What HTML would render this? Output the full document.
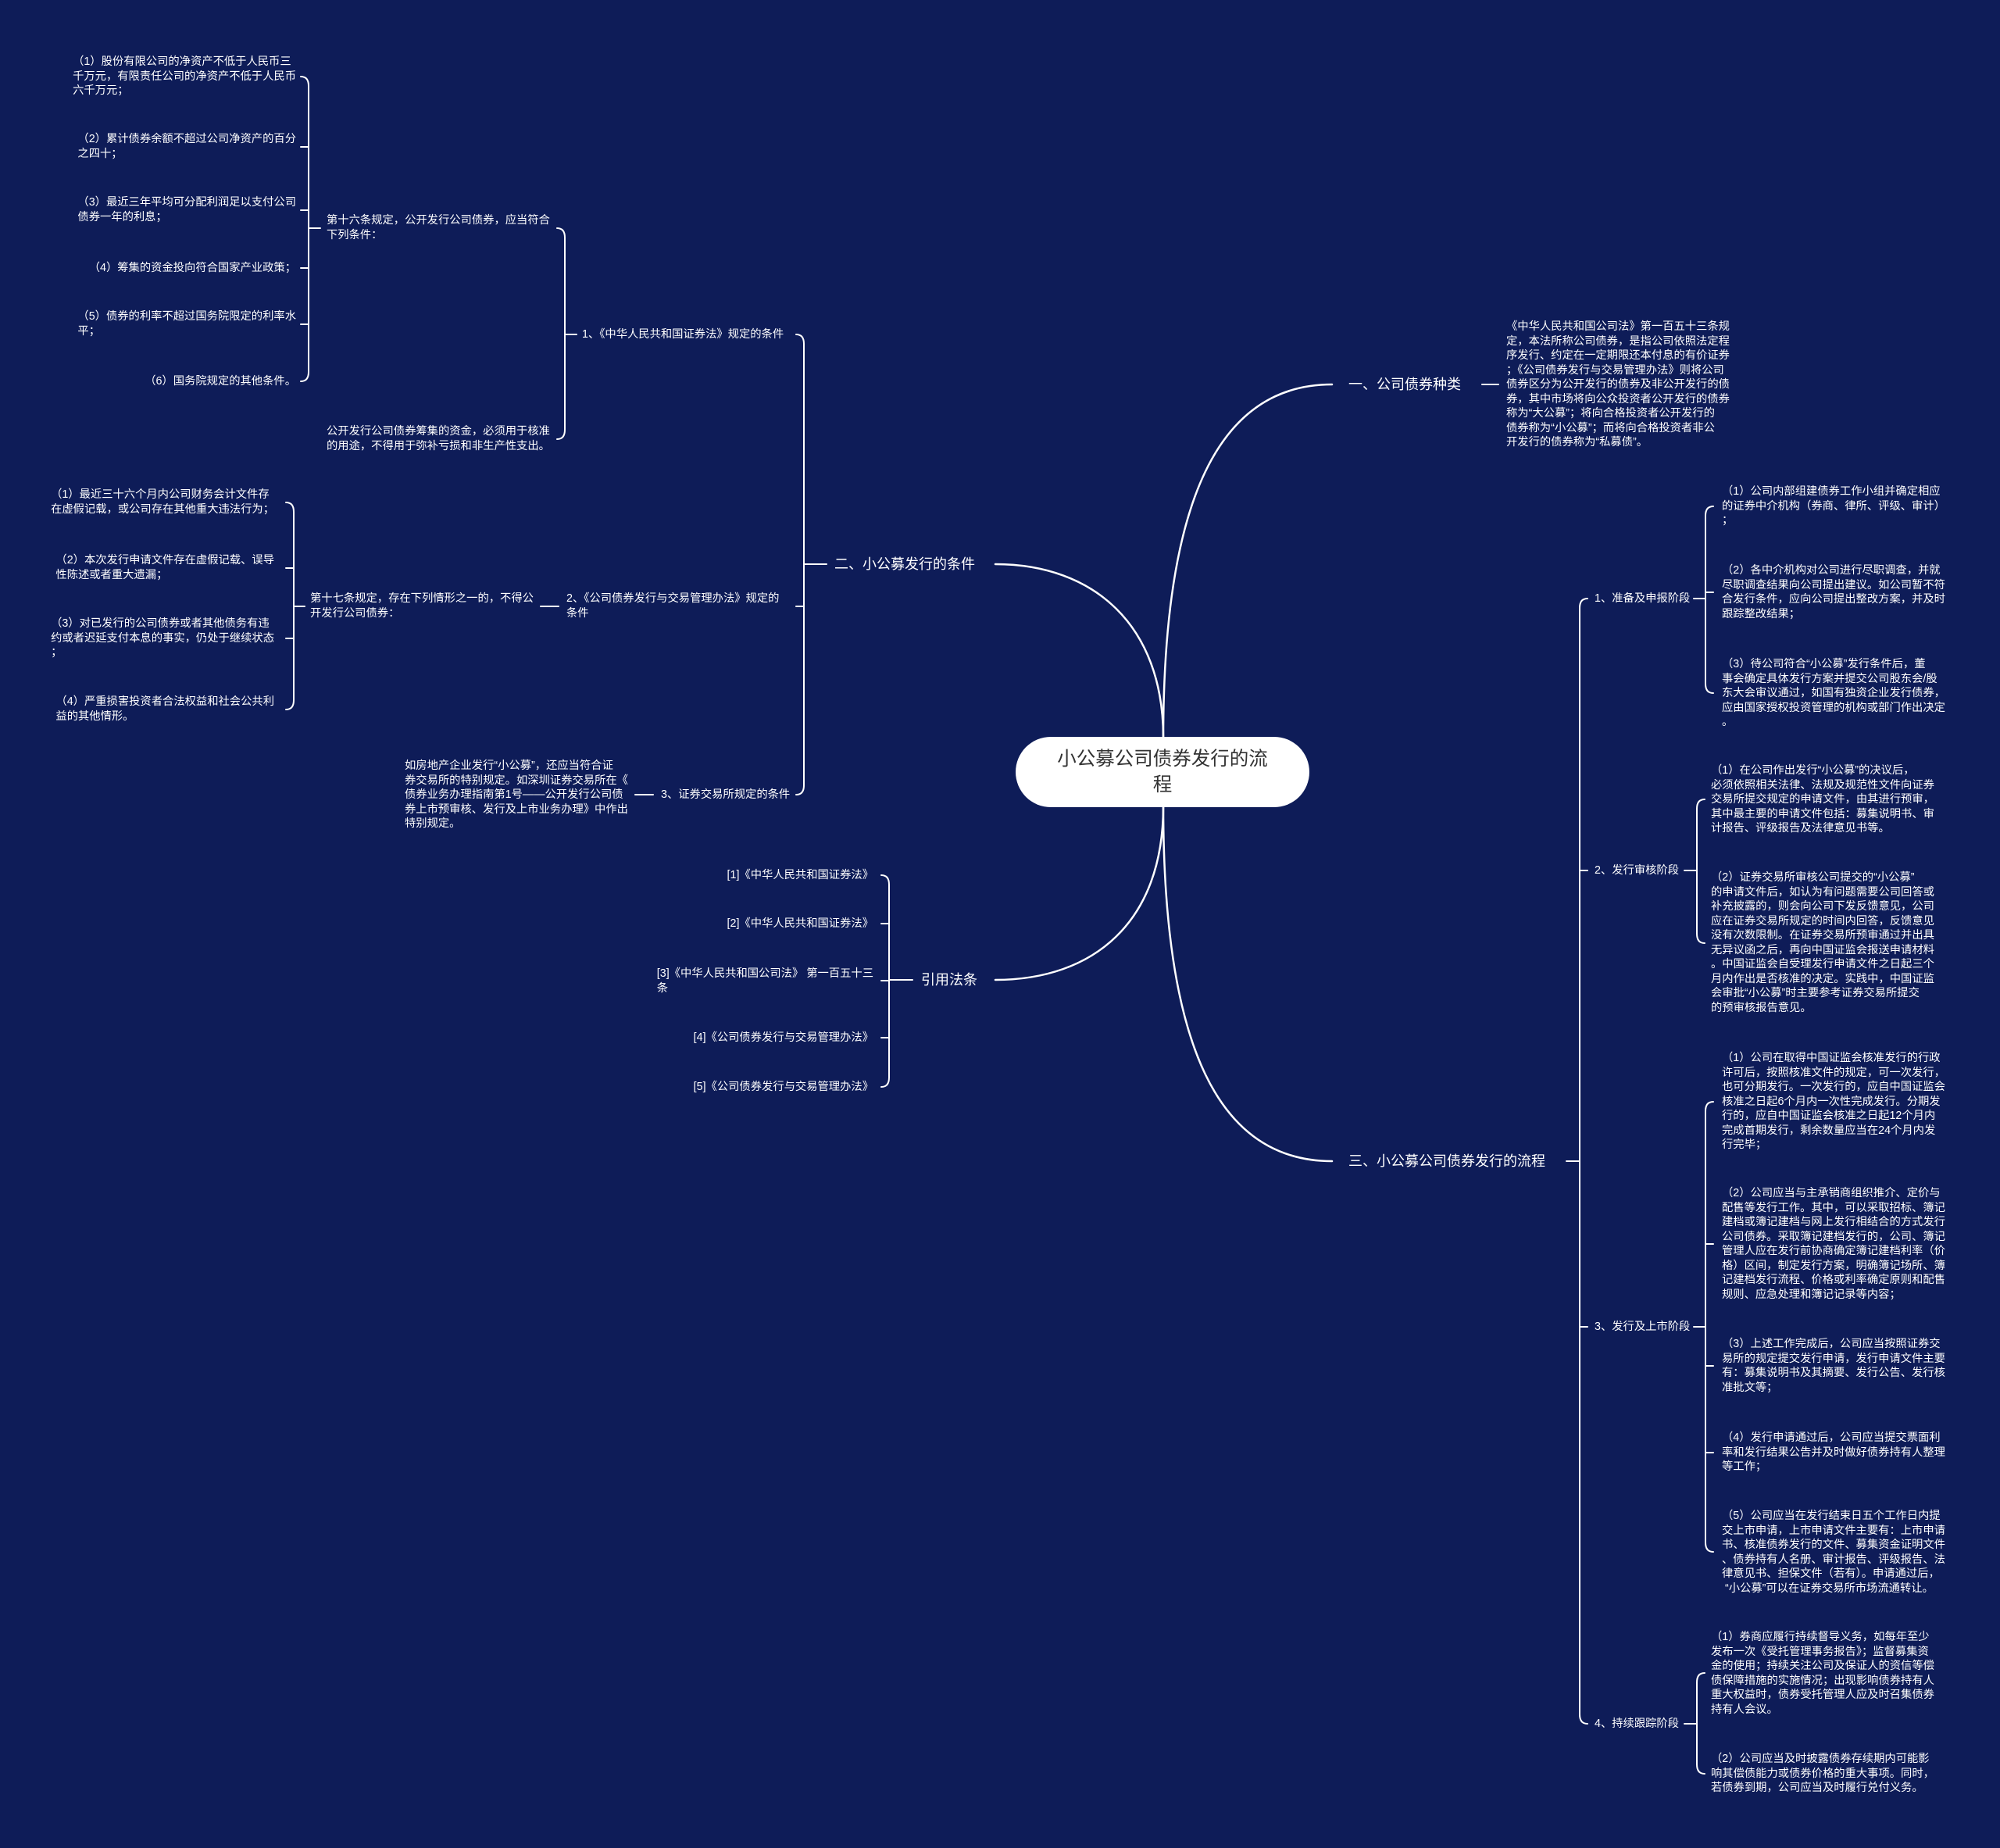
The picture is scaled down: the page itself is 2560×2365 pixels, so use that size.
<!DOCTYPE html>
<html><head><meta charset="utf-8">
<style>
html,body{margin:0;padding:0;}
body{width:2560px;height:2365px;background:#0e1c58;position:relative;overflow:hidden;font-family:"Liberation Sans","Noto Sans CJK SC",sans-serif;color:#fff;}
.t{position:absolute;font-size:14.3px;line-height:18.5px;white-space:nowrap;}
.r{position:absolute;font-size:14.3px;line-height:18.5px;white-space:nowrap;text-align:left;}
.b{position:absolute;font-size:18px;line-height:24px;white-space:nowrap;}
svg{position:absolute;left:0;top:0;}
#root{position:absolute;left:1300px;top:943px;width:376px;height:90px;background:#fff;border-radius:45px;color:#333;font-size:24.5px;line-height:33px;text-align:center;display:flex;align-items:center;justify-content:center;}
</style></head><body>
<svg width="2560" height="2365" fill="none" stroke="#fff" stroke-linecap="round">
<g stroke-width="2.5">
<path d="M1489 944 C1489 640 1560 492 1705 492"/>
<path d="M1489 944 C1489 800 1400 722 1274 722"/>
<path d="M1489 1032 C1489 1180 1400 1254 1274 1254"/>
<path d="M1489 1032 C1489 1340 1560 1486 1705 1486"/>
</g>
<g stroke-width="2">
<!-- branch 1 -->
<path d="M1897 492 H1918"/>
<!-- bracket 二 at 1029 -->
<path d="M1019 428 Q1029 428 1029 440 V1005 Q1029 1017 1019 1017"/>
<path d="M1029 776 H1019"/><path d="M1029 722 H1058"/>
<!-- bracket 1、 at 723 -->
<path d="M713 292 Q723 292 723 304 V550 Q723 562 713 562"/>
<path d="M723 428 H738"/>
<!-- bracket A at 395 -->
<path d="M385 98 Q395 98 395 110 V476 Q395 488 385 488"/>
<path d="M395 188 H385"/><path d="M395 269 H385"/><path d="M395 343 H385"/><path d="M395 415 H385"/>
<path d="M395 292 H410"/>
<!-- 2、 link -->
<path d="M692 776 H715"/>
<!-- bracket B at 376 -->
<path d="M366 643 Q376 643 376 655 V896 Q376 908 366 908"/>
<path d="M376 727 H366"/><path d="M376 817 H366"/>
<path d="M376 776 H390"/>
<!-- 3、 link -->
<path d="M813 1017 H836"/>
<!-- 引用 bracket at 1138 -->
<path d="M1128 1120 Q1138 1120 1138 1132 V1379 Q1138 1391 1128 1391"/>
<path d="M1138 1182 H1128"/><path d="M1138 1255 H1128"/><path d="M1138 1328 H1128"/>
<path d="M1138 1254 H1168"/>
<!-- 三 main bracket at 2022 -->
<path d="M2005 1486 H2022"/>
<path d="M2032 766 Q2022 766 2022 778 V2194 Q2022 2206 2032 2206"/>
<path d="M2022 1114 H2032"/><path d="M2022 1698 H2032"/>
<!-- stage1 bracket 2183 -->
<path d="M2168 766 H2183"/>
<path d="M2193 648 Q2183 648 2183 660 V875 Q2183 887 2193 887"/>
<path d="M2183 758 H2193"/>
<!-- stage2 bracket 2172 -->
<path d="M2156 1114 H2172"/>
<path d="M2182 1023 Q2172 1023 2172 1035 V1195 Q2172 1207 2182 1207"/>
<!-- stage3 bracket 2183 -->
<path d="M2168 1698 H2183"/>
<path d="M2193 1410 Q2183 1410 2183 1422 V1974 Q2183 1986 2193 1986"/>
<path d="M2183 1592 H2193"/><path d="M2183 1748 H2193"/><path d="M2183 1859 H2193"/>
<!-- stage4 bracket 2172 -->
<path d="M2156 2206 H2172"/>
<path d="M2182 2141 Q2172 2141 2172 2153 V2258 Q2172 2270 2182 2270"/>
</g>
</svg>

<div id="root"><div>小公募公司债券发行的流<br>程</div></div>

<!-- branch 一 -->
<div class="b" style="left:1726px;top:480px;">一、公司债券种类</div>
<div class="t" style="left:1928px;top:409px;">《中华人民共和国公司法》第一百五十三条规<br>定，本法所称公司债券，是指公司依照法定程<br>序发行、约定在一定期限还本付息的有价证券<br>；《公司债券发行与交易管理办法》则将公司<br>债券区分为公开发行的债券及非公开发行的债<br>券，其中市场将向公众投资者公开发行的债券<br>称为“大公募”；将向合格投资者公开发行的<br>债券称为“小公募”；而将向合格投资者非公<br>开发行的债券称为“私募债”。</div>

<!-- branch 二 -->
<div class="b" style="left:1068px;top:710px;">二、小公募发行的条件</div>
<div class="t" style="left:745px;top:419px;">1、《中华人民共和国证券法》规定的条件</div>
<div class="t" style="left:418px;top:273px;">第十六条规定，公开发行公司债券，应当符合<br>下列条件：</div>
<div class="t" style="left:418px;top:543px;">公开发行公司债券筹集的资金，必须用于核准<br>的用途，不得用于弥补亏损和非生产性支出。</div>
<div class="r" style="right:2181px;top:70px;">（1）股份有限公司的净资产不低于人民币三<br>千万元，有限责任公司的净资产不低于人民币<br>六千万元；</div>
<div class="r" style="right:2181px;top:169px;">（2）累计债券余额不超过公司净资产的百分<br>之四十；</div>
<div class="r" style="right:2181px;top:250px;">（3）最近三年平均可分配利润足以支付公司<br>债券一年的利息；</div>
<div class="r" style="right:2181px;top:334px;">（4）筹集的资金投向符合国家产业政策；</div>
<div class="r" style="right:2181px;top:396px;">（5）债券的利率不超过国务院限定的利率水<br>平；</div>
<div class="r" style="right:2181px;top:479px;">（6）国务院规定的其他条件。</div>

<div class="t" style="left:725px;top:757px;">2、《公司债券发行与交易管理办法》规定的<br>条件</div>
<div class="t" style="left:397px;top:757px;">第十七条规定，存在下列情形之一的，不得公<br>开发行公司债券：</div>
<div class="r" style="right:2209px;top:624px;">（1）最近三十六个月内公司财务会计文件存<br>在虚假记载，或公司存在其他重大违法行为；</div>
<div class="r" style="right:2209px;top:708px;">（2）本次发行申请文件存在虚假记载、误导<br>性陈述或者重大遗漏；</div>
<div class="r" style="right:2209px;top:789px;">（3）对已发行的公司债券或者其他债务有违<br>约或者迟延支付本息的事实，仍处于继续状态<br>；</div>
<div class="r" style="right:2209px;top:889px;">（4）严重损害投资者合法权益和社会公共利<br>益的其他情形。</div>

<div class="t" style="left:846px;top:1008px;">3、证券交易所规定的条件</div>
<div class="t" style="left:518px;top:971px;">如房地产企业发行“小公募”，还应当符合证<br>券交易所的特别规定。如深圳证券交易所在《<br>债券业务办理指南第1号——公开发行公司债<br>券上市预审核、发行及上市业务办理》中作出<br>特别规定。</div>

<!-- 引用法条 -->
<div class="b" style="left:1179px;top:1242px;">引用法条</div>
<div class="r" style="right:1442px;top:1111px;">[1]《中华人民共和国证券法》</div>
<div class="r" style="right:1442px;top:1173px;">[2]《中华人民共和国证券法》</div>
<div class="r" style="right:1442px;top:1237px;">[3]《中华人民共和国公司法》 第一百五十三<br>条</div>
<div class="r" style="right:1442px;top:1319px;">[4]《公司债券发行与交易管理办法》</div>
<div class="r" style="right:1442px;top:1382px;">[5]《公司债券发行与交易管理办法》</div>

<!-- 三 -->
<div class="b" style="left:1726px;top:1474px;">三、小公募公司债券发行的流程</div>

<div class="t" style="left:2041px;top:757px;">1、准备及申报阶段</div>
<div class="t" style="left:2204px;top:620px;">（1）公司内部组建债券工作小组并确定相应<br>的证券中介机构（券商、律所、评级、审计）<br>；</div>
<div class="t" style="left:2204px;top:721px;">（2）各中介机构对公司进行尽职调查，并就<br>尽职调查结果向公司提出建议。如公司暂不符<br>合发行条件，应向公司提出整改方案，并及时<br>跟踪整改结果；</div>
<div class="t" style="left:2204px;top:841px;">（3）待公司符合“小公募”发行条件后，董<br>事会确定具体发行方案并提交公司股东会/股<br>东大会审议通过，如国有独资企业发行债券，<br>应由国家授权投资管理的机构或部门作出决定<br>。</div>

<div class="t" style="left:2041px;top:1105px;">2、发行审核阶段</div>
<div class="t" style="left:2190px;top:977px;">（1）在公司作出发行“小公募”的决议后，<br>必须依照相关法律、法规及规范性文件向证券<br>交易所提交规定的申请文件，由其进行预审，<br>其中最主要的申请文件包括：募集说明书、审<br>计报告、评级报告及法律意见书等。</div>
<div class="t" style="left:2190px;top:1114px;">（2）证券交易所审核公司提交的“小公募”<br>的申请文件后，如认为有问题需要公司回答或<br>补充披露的，则会向公司下发反馈意见，公司<br>应在证券交易所规定的时间内回答，反馈意见<br>没有次数限制。在证券交易所预审通过并出具<br>无异议函之后，再向中国证监会报送申请材料<br>。中国证监会自受理发行申请文件之日起三个<br>月内作出是否核准的决定。实践中，中国证监<br>会审批“小公募”时主要参考证券交易所提交<br>的预审核报告意见。</div>

<div class="t" style="left:2041px;top:1689px;">3、发行及上市阶段</div>
<div class="t" style="left:2204px;top:1345px;">（1）公司在取得中国证监会核准发行的行政<br>许可后，按照核准文件的规定，可一次发行，<br>也可分期发行。一次发行的，应自中国证监会<br>核准之日起6个月内一次性完成发行。分期发<br>行的，应自中国证监会核准之日起12个月内<br>完成首期发行，剩余数量应当在24个月内发<br>行完毕；</div>
<div class="t" style="left:2204px;top:1518px;">（2）公司应当与主承销商组织推介、定价与<br>配售等发行工作。其中，可以采取招标、簿记<br>建档或簿记建档与网上发行相结合的方式发行<br>公司债券。采取簿记建档发行的，公司、簿记<br>管理人应在发行前协商确定簿记建档利率（价<br>格）区间，制定发行方案，明确簿记场所、簿<br>记建档发行流程、价格或利率确定原则和配售<br>规则、应急处理和簿记记录等内容；</div>
<div class="t" style="left:2204px;top:1711px;">（3）上述工作完成后，公司应当按照证券交<br>易所的规定提交发行申请，发行申请文件主要<br>有：募集说明书及其摘要、发行公告、发行核<br>准批文等；</div>
<div class="t" style="left:2204px;top:1831px;">（4）发行申请通过后，公司应当提交票面利<br>率和发行结果公告并及时做好债券持有人整理<br>等工作；</div>
<div class="t" style="left:2204px;top:1931px;">（5）公司应当在发行结束日五个工作日内提<br>交上市申请，上市申请文件主要有：上市申请<br>书、核准债券发行的文件、募集资金证明文件<br>、债券持有人名册、审计报告、评级报告、法<br>律意见书、担保文件（若有）。申请通过后，<br>&nbsp;“小公募”可以在证券交易所市场流通转让。</div>

<div class="t" style="left:2041px;top:2197px;">4、持续跟踪阶段</div>
<div class="t" style="left:2190px;top:2086px;">（1）券商应履行持续督导义务，如每年至少<br>发布一次《受托管理事务报告》；监督募集资<br>金的使用；持续关注公司及保证人的资信等偿<br>债保障措施的实施情况；出现影响债券持有人<br>重大权益时，债券受托管理人应及时召集债券<br>持有人会议。</div>
<div class="t" style="left:2190px;top:2242px;">（2）公司应当及时披露债券存续期内可能影<br>响其偿债能力或债券价格的重大事项。同时，<br>若债券到期，公司应当及时履行兑付义务。</div>
</body></html>
